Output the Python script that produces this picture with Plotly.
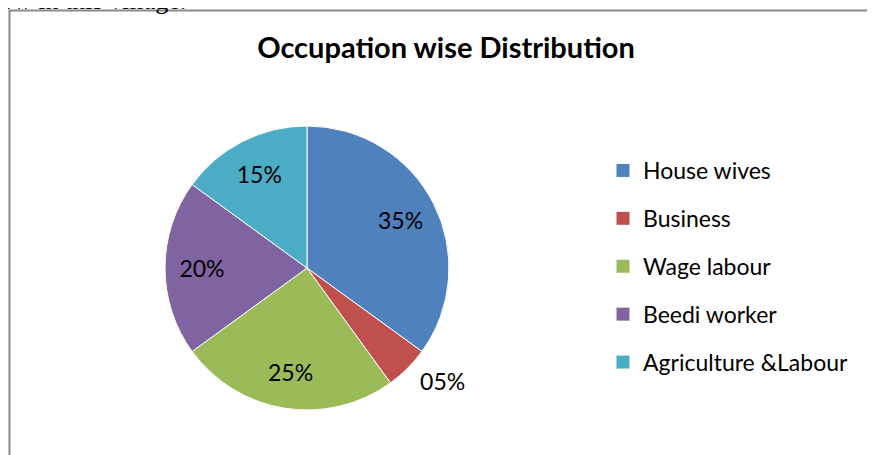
import plotly.graph_objects as go

categories = ["House wives", "Business", "Wage labour", "Beedi worker", "Agriculture &Labour"]
values = [35, 5, 25, 20, 15]
value_labels = ["35%", "05%", "25%", "20%", "15%"]
colors = ["#4F81BD", "#C0504D", "#9BBB59", "#8064A2", "#4BACC6"]
label_positions = ["inside", "outside", "inside", "inside", "inside"]

# page body has an 8px margin; figure placed so it fills the rest of the window
W, H = 867, 447
cx, cy, R = 299, 260, 142      # pie centre / radius in figure pixels
RT = 150                       # radius of the transparent label ring

def dom(r):
    return dict(x=[(cx - r) / W, (cx + r) / W], y=[(H - cy - r) / H, (H - cy + r) / H])

fig = go.Figure()
# coloured pie
fig.add_trace(go.Pie(
    labels=categories, values=values, textinfo="none",
    sort=False, direction="clockwise", rotation=0,
    marker=dict(colors=colors, line=dict(color="white", width=1)),
    showlegend=False, hoverinfo="label+percent", domain=dom(R),
))
# transparent ring that carries the percentage labels
fig.add_trace(go.Pie(
    labels=categories, values=values, text=value_labels,
    textinfo="text", textposition=label_positions, hole=0.40,
    insidetextorientation="horizontal",
    sort=False, direction="clockwise", rotation=0,
    marker=dict(colors=["rgba(0,0,0,0)"] * len(values), line=dict(width=0)),
    textfont=dict(family="Lato", size=23, color="black"),
    showlegend=False, hoverinfo="skip", domain=dom(RT),
))

for i, (c, col) in enumerate(zip(categories, colors)):
    fig.add_trace(go.Scatter(
        x=[None], y=[None], mode="markers", name=c,
        marker=dict(symbol="square", size=13, color=col),
        legendgroup=f"g{i}", showlegend=True,
    ))

fig.update_layout(
    width=W, height=H, margin=dict(l=0, r=0, t=0, b=0),
    paper_bgcolor="white", plot_bgcolor="white",
    xaxis=dict(visible=False), yaxis=dict(visible=False),
    title=dict(text="<b>Occupation wise Distribution</b>", x=438 / W, xanchor="center",
               y=1 - 40 / H, yanchor="middle",
               font=dict(family="Lato", size=29, color="black")),
    legend=dict(x=595 / W, xanchor="left", y=1 - 141 / H, yanchor="top",
                font=dict(family="Lato", size=23, color="black"),
                tracegroupgap=15, bgcolor="rgba(0,0,0,0)"),
    shapes=[dict(type="rect", xref="paper", yref="paper",
                 x0=1.5 / W, x1=1.1, y0=-0.1, y1=1 - 2.5 / H,
                 line=dict(color="#888888", width=2))],
    annotations=[dict(text="ow in this village.", xref="paper", yref="paper",
                      x=180 / W, y=1 + 7 / H, xanchor="right", yanchor="middle",
                      showarrow=False,
                      font=dict(family="Liberation Serif", size=26, color="black"))],
)

fig.write_html("out.html")
